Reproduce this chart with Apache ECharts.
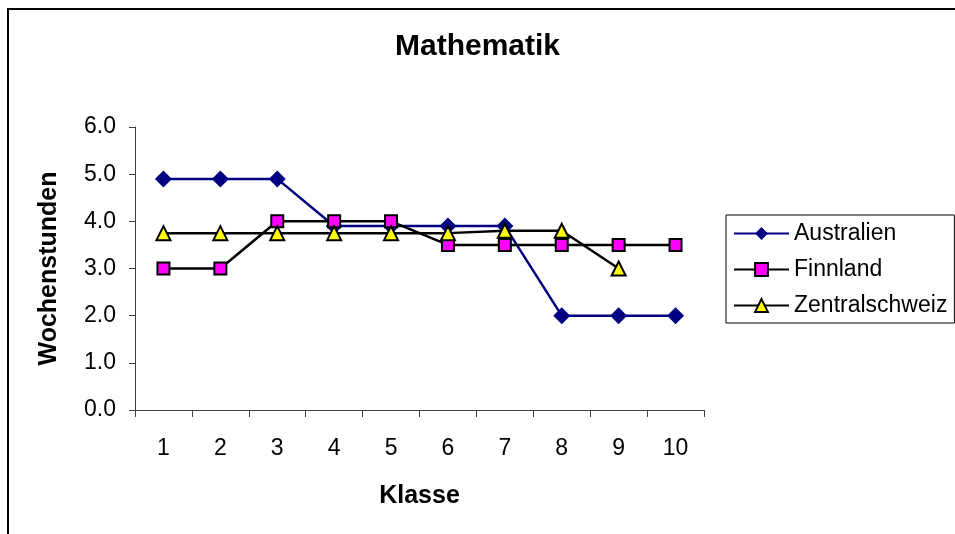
<!DOCTYPE html>
<html>
<head>
<meta charset="utf-8">
<script src="https://cdn.jsdelivr.net/npm/echarts@6/dist/echarts.min.js"></script>
<style>
  html, body { margin: 0; padding: 0; background: #fff; }
  #chart { width: 955px; height: 534px; }
</style>
</head>
<body>
<div id="chart"></div>
<script>
const klassen = ['1', '2', '3', '4', '5', '6', '7', '8', '9', '10'];
const australien = [4.9, 4.9, 4.9, 3.9, 3.9, 3.9, 3.9, 2.0, 2.0, 2.0];
const finnland = [3.0, 3.0, 4.0, 4.0, 4.0, 3.5, 3.5, 3.5, 3.5, 3.5];
const zentralschweiz = [3.75, 3.75, 3.75, 3.75, 3.75, 3.75, 3.8, 3.8, 3.0, null];

const font = 'Liberation Sans, Arial, sans-serif';
const axisColor = '#404040';

const chart = echarts.init(document.getElementById('chart'));
chart.setOption({
  animation: false,
  textStyle: { fontFamily: font },
  graphic: [{
    type: 'rect',
    shape: { x: 8, y: 9, width: 1000, height: 600 },
    style: { fill: 'none', stroke: '#000', lineWidth: 2 }
  }],
  title: {
    text: 'Mathematik',
    left: 'center',
    top: 27,
    textStyle: { fontSize: 30, fontWeight: 'bold', color: '#000', fontFamily: font }
  },
  legend: {
    orient: 'vertical',
    left: 726,
    top: 215,
    padding: [7, 7, 6, 7],
    itemWidth: 55,
    itemHeight: 16,
    itemGap: 13,
    borderColor: '#000',
    borderWidth: 1,
    textStyle: { fontSize: 23, color: '#000', fontFamily: font },
    data: ['Australien', 'Finnland', 'Zentralschweiz']
  },
  grid: { left: 135, right: 251, top: 127, bottom: 124 },
  xAxis: {
    type: 'category',
    data: klassen,
    boundaryGap: true,
    name: 'Klasse',
    nameLocation: 'middle',
    nameGap: 74,
    nameTextStyle: { fontSize: 25, fontWeight: 'bold', color: '#000', fontFamily: font },
    axisLine: { lineStyle: { color: axisColor, width: 1 } },
    axisTick: { show: true, length: 7, lineStyle: { color: axisColor } },
    axisLabel: { fontSize: 23, color: '#000', margin: 27, fontFamily: font },
    splitLine: { show: false }
  },
  yAxis: {
    type: 'value',
    min: 0,
    max: 6,
    interval: 1,
    name: 'Wochenstunden',
    nameLocation: 'middle',
    nameGap: 73,
    nameRotate: 90,
    nameTextStyle: { fontSize: 25, fontWeight: 'bold', color: '#000', fontFamily: font },
    axisLine: { show: true, lineStyle: { color: axisColor, width: 1 } },
    axisTick: { show: true, length: 6, lineStyle: { color: axisColor } },
    axisLabel: {
      fontSize: 23, color: '#000', margin: 19, fontFamily: font,
      formatter: v => v.toFixed(1)
    },
    splitLine: { show: false }
  },
  series: [
    {
      name: 'Australien',
      type: 'line',
      data: australien,
      symbol: 'diamond',
      symbolSize: 17,
      lineStyle: { color: '#000080', width: 2.5 },
      itemStyle: { color: '#000080', borderColor: '#000080', borderWidth: 0 }
    },
    {
      name: 'Finnland',
      type: 'line',
      data: finnland,
      symbol: 'rect',
      symbolSize: 12,
      lineStyle: { color: '#000', width: 2.5 },
      itemStyle: { color: '#ff00ff', borderColor: '#000', borderWidth: 2 }
    },
    {
      name: 'Zentralschweiz',
      type: 'line',
      data: zentralschweiz,
      symbol: 'triangle',
      symbolSize: 14,
      lineStyle: { color: '#000', width: 2.5 },
      itemStyle: { color: '#ffff00', borderColor: '#000', borderWidth: 2 }
    }
  ]
});
</script>
</body>
</html>
